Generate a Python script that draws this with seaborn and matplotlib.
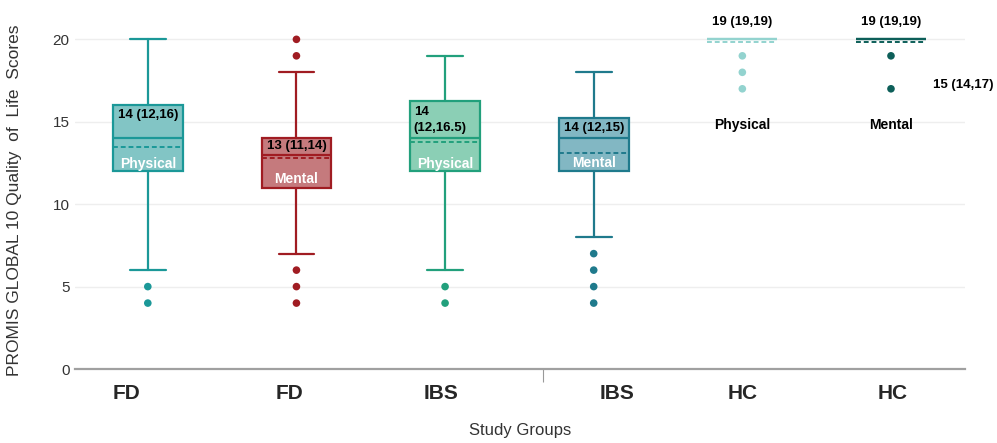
import numpy as np
import pandas as pd
import matplotlib
matplotlib.use('Agg')
import matplotlib.pyplot as plt
import seaborn as sns

# box statistics
boxes = ['FD Physical', 'FD Mental', 'IBS Physical', 'IBS Mental', 'HC Physical', 'HC Mental']
whislo = [6, 7, 6, 8, 20, 20]
q1 = [12, 11, 12, 12, 20, 20]
med = [14, 13, 14, 14, 20, 20]
q3 = [16, 14, 16.25, 15.25, 20, 20]
whishi = [20, 18, 19, 18, 20, 20]
means = [13.45, 12.8, 13.8, 13.1, 19.85, 19.85]
fliers = [[5, 4], [20, 19, 6, 5, 4], [5, 4], [7, 6, 5, 4], [19, 18, 17], [19, 17]]

edge_colors = ['#1b9898', '#a01c22', '#22a07c', '#1f7a8c', '#93d3cf', '#0d5f59']
face_colors = ['#82c5c5', '#c57a7d', '#8bcfb5', '#82b7c3', '#93d3cf', '#0d5f59']

box_labels = ['14 (12,16)', '13 (11,14)', '14\n(12,16.5)', '14 (12,15)', '19 (19,19)', '19 (19,19)']
kind_labels = ['Physical', 'Mental', 'Physical', 'Mental', 'Physical', 'Mental']

tick_labels = ['FD', 'FD', 'IBS', 'IBS', 'HC', 'HC']
tick_pos = [-0.14, 0.95, 1.97, 3.16, 4.0, 5.01]

sns.set_theme(style='white')
plt.rcParams['font.family'] = ['Liberation Sans', 'DejaVu Sans']

fig = plt.figure(figsize=(9.97, 4.43), dpi=100)
ax = fig.add_axes([0.0752, 0.167, 0.893, 0.80])

pos = np.arange(len(boxes))
for i in range(len(boxes)):
    st = [dict(whislo=whislo[i], q1=q1[i], med=med[i], q3=q3[i], whishi=whishi[i],
               mean=means[i], fliers=[], label=boxes[i])]
    ec = edge_colors[i]
    hc = i >= 4
    ax.bxp(st, positions=[pos[i]], widths=0.47, capwidths=0.24, patch_artist=True,
           showmeans=True, meanline=True, showfliers=False,
           boxprops=dict(facecolor=face_colors[i], edgecolor=ec, linewidth=1.6),
           medianprops=dict(color=ec, linewidth=1.6),
           meanprops=dict(color=ec, linestyle=(0, (2.5, 1.5)), linewidth=1.4),
           whiskerprops=dict(color=ec, linewidth=1.6),
           capprops=dict(color=ec, linewidth=0 if hc else 1.6))

# outliers
flier_df = pd.DataFrame({
    'pos': [pos[i] for i in range(len(boxes)) for _ in fliers[i]],
    'value': [v for f in fliers for v in f],
    'box': [boxes[i] for i in range(len(boxes)) for _ in fliers[i]],
})
sns.scatterplot(data=flier_df, x='pos', y='value', hue='box', palette=dict(zip(boxes, edge_colors)),
                s=30, edgecolor='none', legend=False, ax=ax, zorder=5)

# annotations inside boxes
ax.text(pos[0], 15.38, box_labels[0], ha='center', va='center', fontsize=9.5, fontweight='bold', color='black')
ax.text(pos[0], 12.46, kind_labels[0], ha='center', va='center', fontsize=10, fontweight='bold', color='white')
ax.text(pos[1], 13.5, box_labels[1], ha='center', va='center', fontsize=9.5, fontweight='bold', color='black')
ax.text(pos[1], 11.55, kind_labels[1], ha='center', va='center', fontsize=10, fontweight='bold', color='white')
ax.text(pos[2] - 0.21, 15.1, box_labels[2], ha='left', va='center', fontsize=9.5, fontweight='bold',
        color='black', linespacing=1.45)
ax.text(pos[2], 12.46, kind_labels[2], ha='center', va='center', fontsize=10, fontweight='bold', color='white')
ax.text(pos[3], 14.6, box_labels[3], ha='center', va='center', fontsize=9.5, fontweight='bold', color='black')
ax.text(pos[3], 12.5, kind_labels[3], ha='center', va='center', fontsize=10, fontweight='bold', color='white')
for i in (4, 5):
    ax.text(pos[i], 21.05, box_labels[i], ha='center', va='center', fontsize=9.5, fontweight='bold', color='black')
    ax.text(pos[i], 14.8, kind_labels[i], ha='center', va='center', fontsize=10, fontweight='bold', color='black')
ax.text(5.28, 17.25, '15 (14,17)', ha='left', va='center', fontsize=9.5, fontweight='bold', color='black',
        clip_on=False)

ax.set_xlim(-0.49, 5.5)
ax.set_ylim(0, 21.5)
ax.set_yticks([0, 5, 10, 15, 20])
ax.set_xticks(tick_pos)
ax.set_xticklabels(tick_labels, fontsize=15, fontweight='bold')
ax.tick_params(axis='x', which='major', length=0, pad=11)
ax.tick_params(axis='y', length=0, labelsize=11, labelcolor='#333333', pad=4)
ax.set_xticks([2.66], minor=True)
ax.tick_params(axis='x', which='minor', bottom=True, length=9, width=0.8, color='#999999', direction='out')

ax.yaxis.grid(True, color='#eeeeee', linewidth=1)
ax.set_axisbelow(True)
for s in ['top', 'right', 'left']:
    ax.spines[s].set_visible(False)
ax.spines['bottom'].set_color('#a0a0a0')
ax.spines['bottom'].set_linewidth(1.6)

ax.set_xlabel('Study Groups', fontsize=12, color='#333333', labelpad=14)
ax.set_ylabel('PROMIS GLOBAL 10 Quality  of  Life  Scores', fontsize=12.5, color='#333333', labelpad=10)
ax.yaxis.set_label_coords(-0.06, 0.475)

fig.savefig('out.png', dpi=100)
